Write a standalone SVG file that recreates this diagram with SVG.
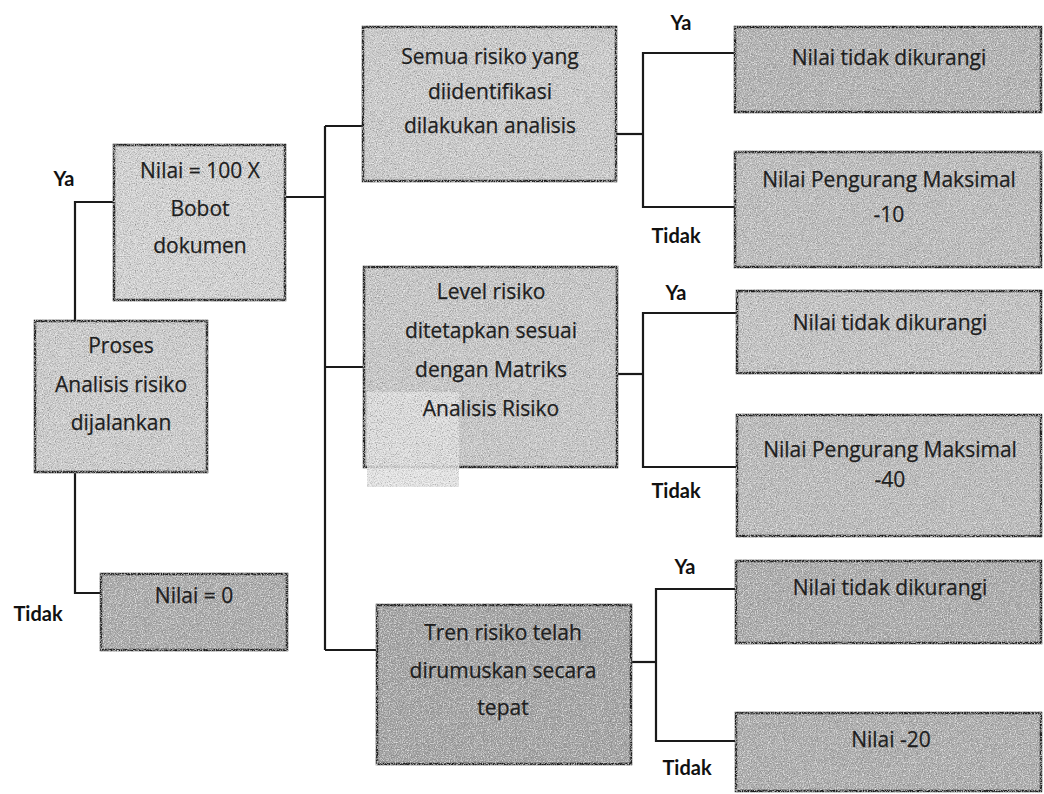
<svg xmlns="http://www.w3.org/2000/svg" width="1044" height="794" viewBox="0 0 1044 794">
<style>
.box{stroke:#1e1e1e;stroke-width:2.5}
.t{font-family:"Open Sans","Liberation Sans",sans-serif;font-size:21px;fill:#1e1e1e;text-anchor:middle;stroke:#1e1e1e;stroke-width:0.25}
.lb{font-family:Lato,"Liberation Sans",sans-serif;font-weight:bold;font-size:20px;fill:#111;text-anchor:middle}
.c{fill:none;stroke:#1a1a1a;stroke-width:2.2}
</style>
<defs>
<filter id="grain" x="-3%" y="-3%" width="106%" height="106%">
<feTurbulence type="fractalNoise" baseFrequency="0.85" numOctaves="2" seed="7" result="noise"/>
<feColorMatrix in="noise" type="matrix" values="0 0 0 0 0.15  0 0 0 0 0.15  0 0 0 0 0.15  1.8 0 0 0 -0.8" result="dark"/>
<feColorMatrix in="noise" type="matrix" values="0 0 0 0 1  0 0 0 0 1  0 0 0 0 1  0 1.8 0 0 -0.85" result="light"/>
<feComposite in="dark" in2="SourceGraphic" operator="in" result="d2"/>
<feComposite in="light" in2="SourceGraphic" operator="in" result="l2"/>
<feMerge><feMergeNode in="SourceGraphic"/><feMergeNode in="d2"/><feMergeNode in="l2"/></feMerge>
</filter>
</defs>
<rect width="1044" height="794" fill="#ffffff"/>

<g id="connectors">
<path class="c" d="M75,321 V202 H114"/>
<path class="c" d="M75,472 V593 H101"/>
<path class="c" d="M285,197 H325"/>
<path class="c" d="M325,126 V650"/>
<path class="c" d="M325,126 H363"/>
<path class="c" d="M325,367 H364"/>
<path class="c" d="M325,650 H377"/>
<path class="c" d="M616,134 H643"/>
<path class="c" d="M735,53 H643 V207 H735"/>
<path class="c" d="M617,374 H643"/>
<path class="c" d="M737,313 H643 V467 H737"/>
<path class="c" d="M631,662 H656"/>
<path class="c" d="M736,589 H656 V741 H736"/>
</g>

<g id="labels">
<text class="lb" x="64" y="186">Ya</text>
<text class="lb" x="38" y="621">Tidak</text>
<text class="lb" x="681" y="30">Ya</text>
<text class="lb" x="676" y="243">Tidak</text>
<text class="lb" x="676" y="300">Ya</text>
<text class="lb" x="676" y="498">Tidak</text>
<text class="lb" x="685" y="574">Ya</text>
<text class="lb" x="687" y="775">Tidak</text>
</g>

<g id="node-proses">
<rect class="box" x="35" y="321" width="172" height="151" fill="#cdcdcd" filter="url(#grain)"/>
<text class="t" x="121" y="353">Proses</text>
<text class="t" x="121" y="392">Analisis risiko</text>
<text class="t" x="121" y="430">dijalankan</text>
</g>

<g id="node-nilai100">
<rect class="box" x="114" y="145" width="171" height="155" fill="#d4d4d4" filter="url(#grain)"/>
<text class="t" x="200" y="178">Nilai = 100 X</text>
<text class="t" x="200" y="216">Bobot</text>
<text class="t" x="200" y="253">dokumen</text>
</g>

<g id="node-nilai0">
<rect class="box" x="101" y="574" width="186" height="76" fill="#ababab" filter="url(#grain)"/>
<text class="t" x="194" y="603">Nilai = 0</text>
</g>

<g id="node-semua">
<rect class="box" x="363" y="27" width="253" height="154" fill="#cccccc" filter="url(#grain)"/>
<text class="t" x="490" y="64">Semua risiko yang</text>
<text class="t" x="490" y="99">diidentifikasi</text>
<text class="t" x="490" y="133">dilakukan analisis</text>
</g>

<g id="node-level">
<rect class="box" x="364" y="267" width="253" height="200" fill="#c8c8c8" filter="url(#grain)"/>
<rect x="367" y="392" width="92" height="95" fill="#e2e2e2" filter="url(#grain)" opacity="0.85"/>
<text class="t" x="491" y="299">Level risiko</text>
<text class="t" x="491" y="338">ditetapkan sesuai</text>
<text class="t" x="491" y="377">dengan Matriks</text>
<text class="t" x="491" y="416">Analisis Risiko</text>
</g>

<g id="node-tren">
<rect class="box" x="377" y="605" width="254" height="159" fill="#a3a3a3" filter="url(#grain)"/>
<text class="t" x="503" y="640">Tren risiko telah</text>
<text class="t" x="503" y="678">dirumuskan secara</text>
<text class="t" x="503" y="715">tepat</text>
</g>

<g id="node-r1">
<rect class="box" x="735" y="27" width="306" height="85" fill="#b3b3b3" filter="url(#grain)"/>
<text class="t" x="889" y="65">Nilai tidak dikurangi</text>
</g>

<g id="node-r2">
<rect class="box" x="735" y="152" width="306" height="115" fill="#bdbdbd" filter="url(#grain)"/>
<text class="t" x="889" y="187">Nilai Pengurang Maksimal</text>
<text class="t" x="889" y="222">-10</text>
</g>

<g id="node-r3">
<rect class="box" x="737" y="291" width="304" height="82" fill="#c4c4c4" filter="url(#grain)"/>
<text class="t" x="890" y="330">Nilai tidak dikurangi</text>
</g>

<g id="node-r4">
<rect class="box" x="737" y="415" width="304" height="121" fill="#bcbcbc" filter="url(#grain)"/>
<text class="t" x="890" y="457">Nilai Pengurang Maksimal</text>
<text class="t" x="890" y="487">-40</text>
</g>

<g id="node-r5">
<rect class="box" x="736" y="561" width="305" height="82" fill="#ababab" filter="url(#grain)"/>
<text class="t" x="890" y="595">Nilai tidak dikurangi</text>
</g>

<g id="node-r6">
<rect class="box" x="736" y="713" width="305" height="78" fill="#adadad" filter="url(#grain)"/>
<text class="t" x="891" y="747">Nilai -20</text>
</g>
</svg>
